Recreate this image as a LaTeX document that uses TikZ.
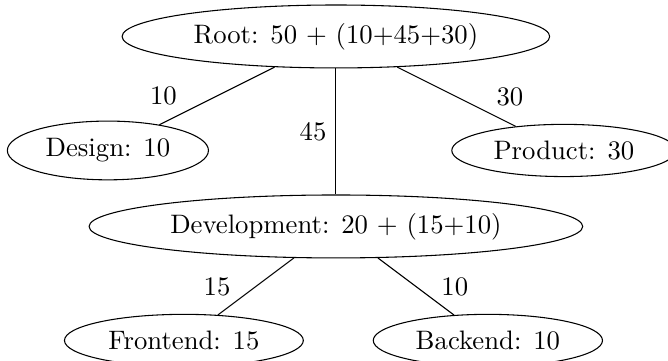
\documentclass[tikz,border=0pt]{standalone}
\usepackage{amsmath}
\usepackage{tikz}
\usetikzlibrary{shapes.geometric, positioning}
\tikzstyle{oval}=[draw=black,ellipse]

\begin{document}
\begin{tikzpicture}[node distance=15mm]
    \useasboundingbox (-4.42,-4.26) rectangle (4.37,0.48);
    \node[oval] (root) {Root: 50 + (10+45+30)};
    \node[oval, below of=root, xshift=-30mm] (design) {Design: 10};
    \node[oval, below of=root, xshift=30mm] (product) {Product: 30};
    \node[oval, below of=root, node distance=25mm] (dev) {Development: 20 + (15+10)};
    \node[oval, below of=dev, xshift=-20mm] (front) {Frontend: 15};
    \node[oval, below of=dev, xshift=20mm] (back) {Backend: 10};

    \draw (root) -- node[left=11.5pt] (wdesign) {10} (design);
    \draw (root) -- node[left] (wdev) {45} (dev);
    \draw (root) -- node[right=11.5pt] (wproduct) {30} (product);
    \draw (dev) -- node[left=6pt] (wfront) {15} (front);
    \draw (dev) -- node[right=6pt] (wback) {10} (back);
\end{tikzpicture}
\end{document}
